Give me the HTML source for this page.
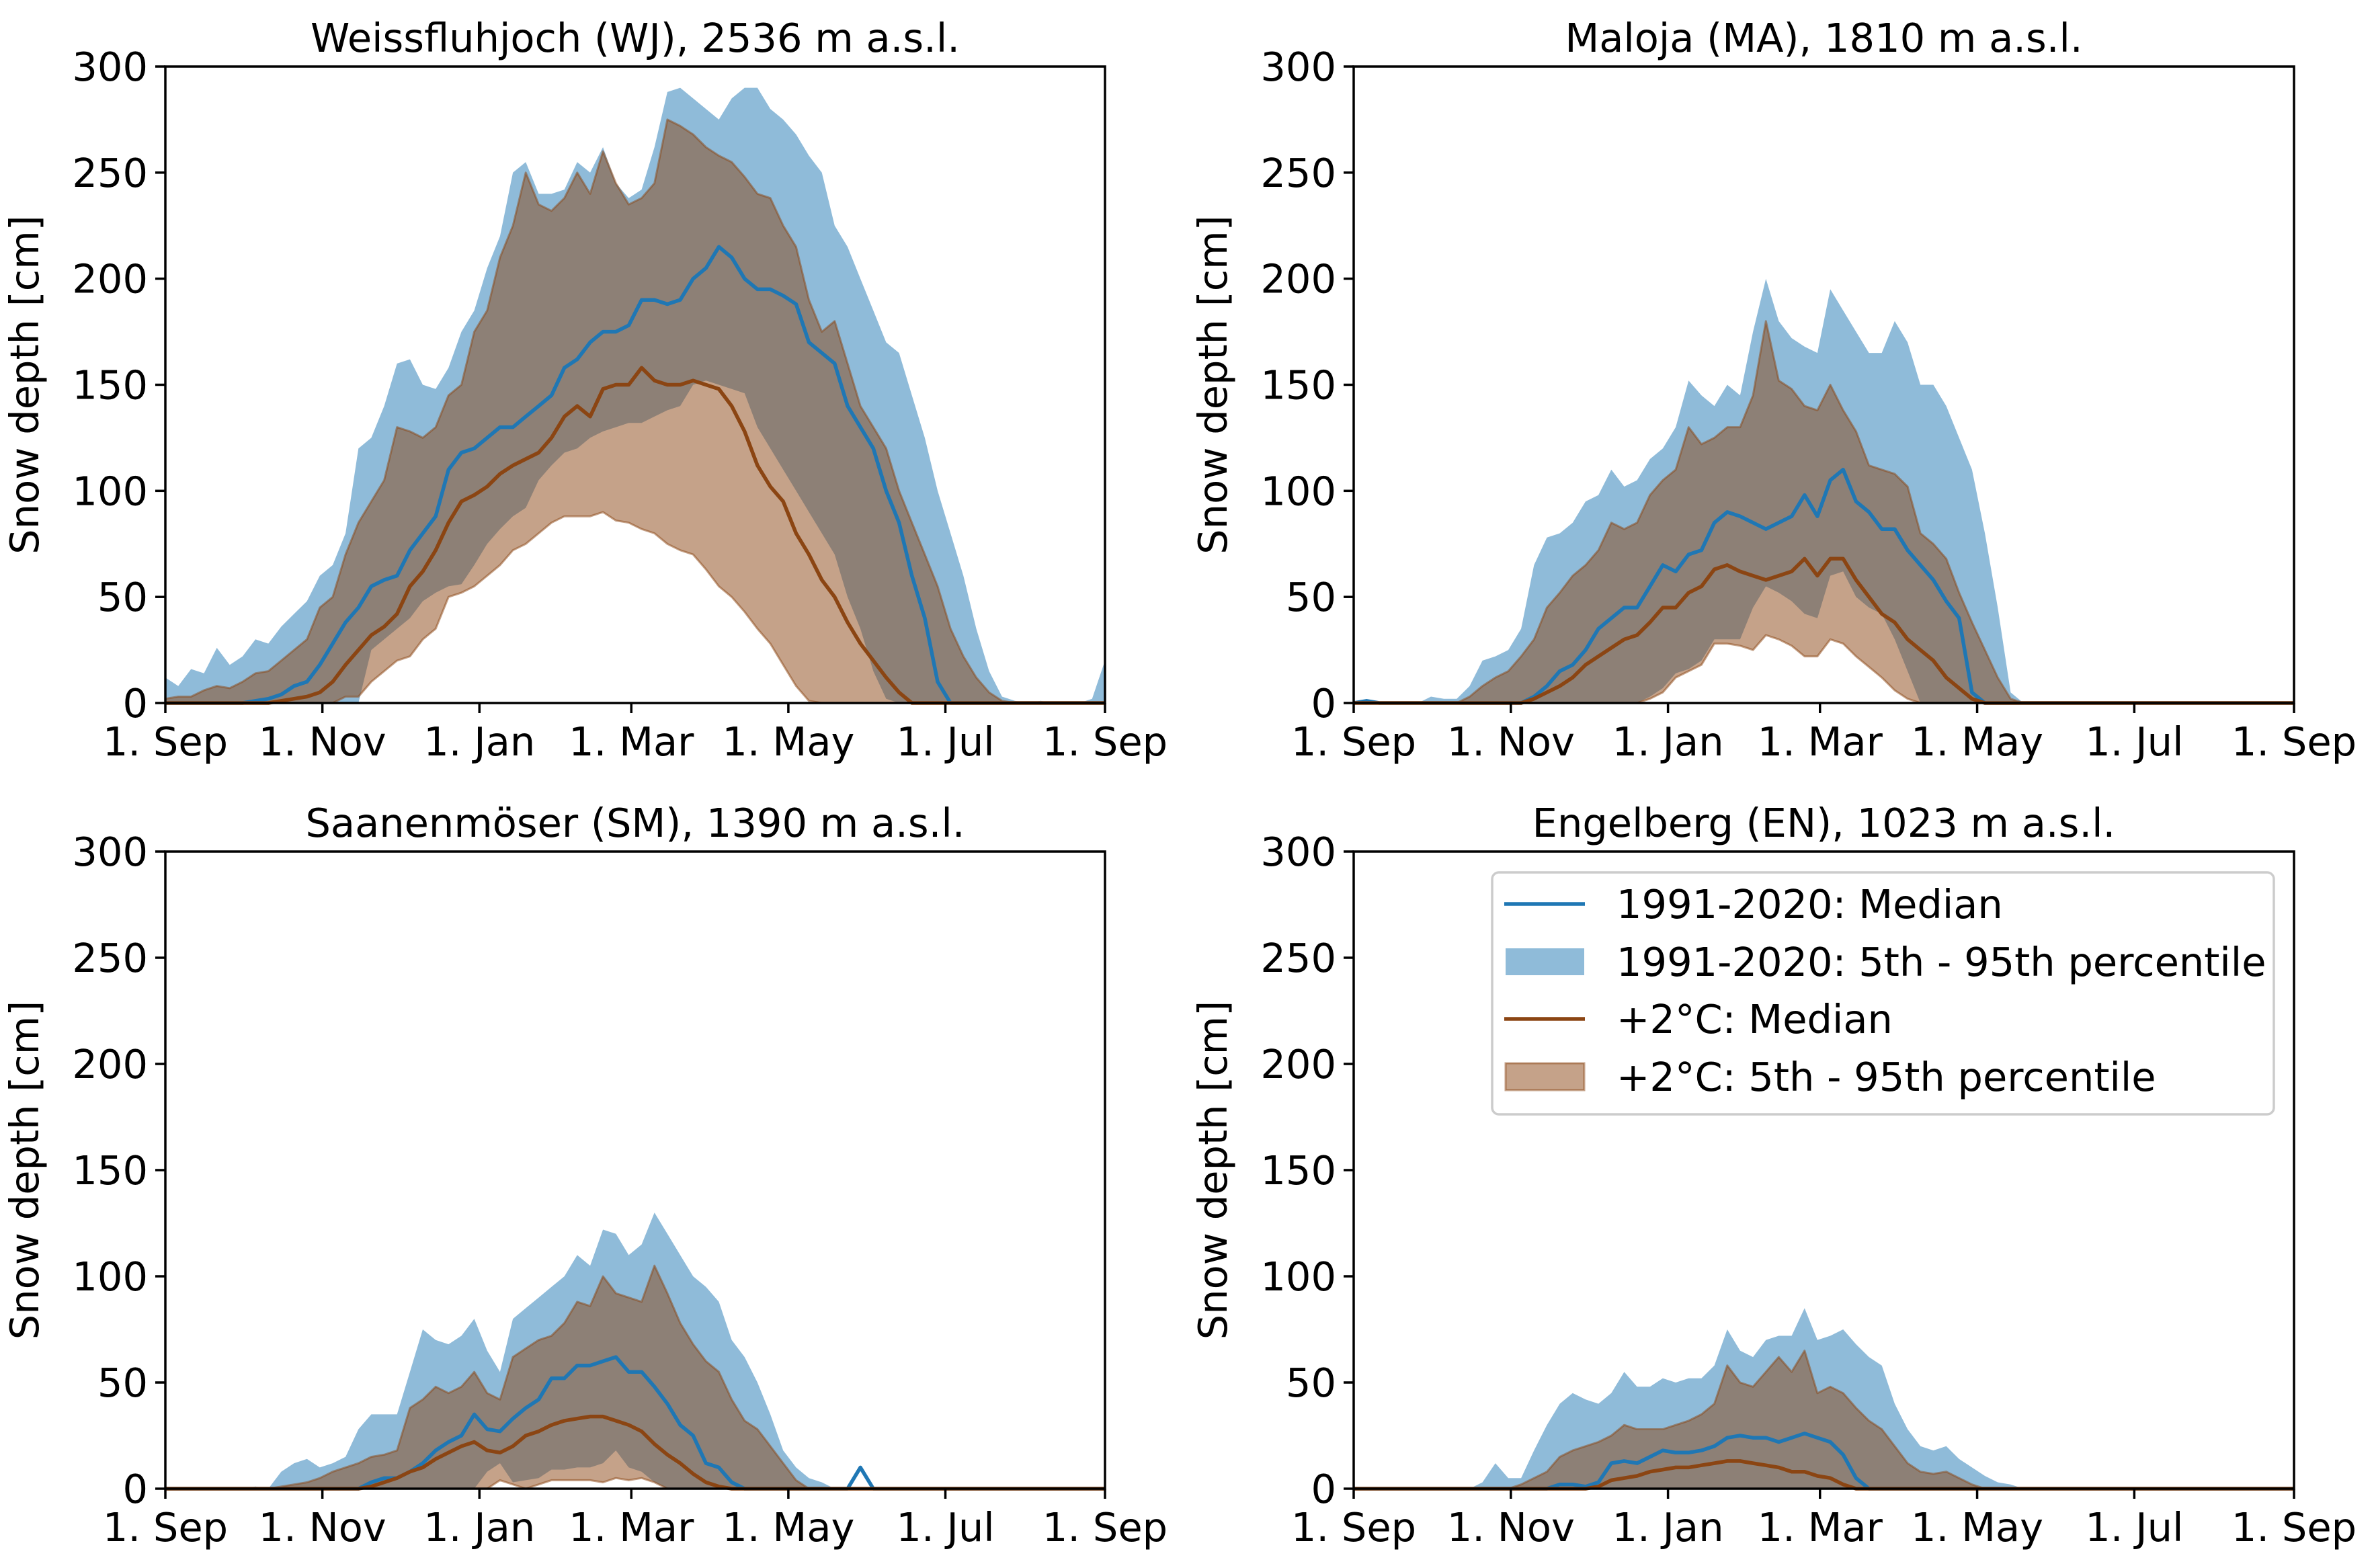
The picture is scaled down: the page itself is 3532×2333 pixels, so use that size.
<!DOCTYPE html>
<html><head><meta charset="utf-8">
<style>
html,body{margin:0;padding:0;background:#fff;}
svg{display:block;}
text{font-family:"DejaVu Sans","Liberation Sans",sans-serif;fill:#000;}
</style></head>
<body>
<svg id="fig" width="3532" height="2333" viewBox="0 0 3532 2333" xmlns="http://www.w3.org/2000/svg"></svg>
<script>
// Sample every 5 days starting 1. Sep (day 0) up to day 365; trailing entries omitted = 0 snow
const tickLabels = ["1. Sep","1. Nov","1. Jan","1. Mar","1. May","1. Jul","1. Sep"];
const tickDays = [0,61,122,181,242,303,365];
const yTicks = [0,50,100,150,200,250,300];

// Weissfluhjoch
const wjRef95 = [12,8,16,14,26,18,22,30,28,36, 42,48,60,65,80,120,125,140,160,162, 150,148,158,175,185,205,220,250,255,240, 240,242,255,250,262,245,238,242,262,288, 290,285,280,275,285,290,290,280,275,268, 258,250,225,215,200,185,170,165,145,125, 100,80,60,35,15,3,1,0,1,0, 0,0,2,20];
const wjRef05 = [0,0,0,0,0,0,0,0,0,0, 0,0,0,0,0,0,25,30,35,40, 48,52,55,56,65,75,82,88,92,105, 112,118,120,125,128,130,132,132,135,138, 140,150,152,150,148,146,130,120,110,100, 90,80,70,50,35,15,2];
const wjRefMed = [0,0,0,0,0,0,0,1,2,4, 8,10,18,28,38,45,55,58,60,72, 80,88,110,118,120,125,130,130,135,140, 145,158,162,170,175,175,178,190,190,188, 190,200,205,215,210,200,195,195,192,188, 170,165,160,140,130,120,100,85,60,40, 10];
const wjWarm95 = [2,3,3,6,8,7,10,14,15,20, 25,30,45,50,70,85,95,105,130,128, 125,130,145,150,175,185,210,225,250,235, 232,238,250,240,260,245,235,238,245,275, 272,268,262,258,255,248,240,238,225,215, 190,175,180,160,140,130,120,100,85,70, 55,35,22,12,5,1];
const wjWarm05 = [0,0,0,0,0,0,0,0,0,0, 0,0,0,0,3,3,10,15,20,22, 30,35,50,52,55,60,65,72,75,80, 85,88,88,88,90,86,85,82,80,75, 72,70,63,55,50,43,35,28,18,8, 1];
const wjWarmMed = [0,0,0,0,0,0,0,0,0,1, 2,3,5,10,18,25,32,36,42,55, 62,72,85,95,98,102,108,112,115,118, 125,135,140,135,148,150,150,158,152,150, 150,152,150,148,140,128,112,102,95,80, 70,58,50,38,28,20,12,5];

// Maloja
const maRef95 = [0,0,0,0,0,0,3,2,2,8, 20,22,25,35,65,78,80,85,95,98, 110,102,105,115,120,130,152,145,140,150, 145,175,200,180,172,168,165,195,185,175, 165,165,180,170,150,150,140,125,110,80, 45,5];
const maRef05 = [0,0,0,0,0,0,0,0,0,0, 0,0,0,0,0,0,0,0,0,0, 0,0,0,3,7,14,16,20,30,30, 30,45,55,52,48,42,40,60,62,50, 45,42,30,15];
const maRefMed = [0,1,0,0,0,0,0,0,0,0, 0,0,0,0,3,8,15,18,25,35, 40,45,45,55,65,62,70,72,85,90, 88,85,82,85,88,98,88,105,110,95, 90,82,82,72,65,58,48,40,5];
const maWarm95 = [0,0,0,0,0,0,0,0,0,3, 8,12,15,22,30,45,52,60,65,72, 85,82,85,98,105,110,130,122,125,130, 130,145,180,152,148,140,138,150,138,128, 112,110,108,102,80,75,68,52,38,25, 12,2];
const maWarm05 = [0,0,0,0,0,0,0,0,0,0, 0,0,0,0,0,0,0,0,0,0, 0,0,0,2,5,12,15,18,28,28, 27,25,32,30,27,22,22,30,28,22, 17,12,6,2];
const maWarmMed = [0,0,0,0,0,0,0,0,0,0, 0,0,0,0,2,5,8,12,18,22, 26,30,32,38,45,45,52,55,63,65, 62,60,58,60,62,68,60,68,68,58, 50,42,38,30,25,20,12,7,2];

// Saanenmöser
const smRef95 = [0,0,0,0,0,0,0,1,0,8, 12,14,10,12,15,28,35,35,35,55, 75,70,68,72,80,65,55,80,85,90, 95,100,110,105,122,120,110,115,130,120, 110,100,95,88,70,62,50,35,18,10, 5,3];
const smRef05 = [0,0,0,0,0,0,0,0,0,0, 0,0,0,0,0,0,0,0,0,0, 0,0,0,0,0,8,12,3,4,5, 9,9,10,10,12,18,10,8,3];
const smRefMed = [0,0,0,0,0,0,0,0,0,0, 0,0,0,0,0,0,3,5,5,8, 12,18,22,25,35,28,27,33,38,42, 52,52,58,58,60,62,55,55,48,40, 30,25,12,10,3,0,0,0,0,0, 0,0,0,0,10];
const smWarm95 = [0,0,0,0,0,0,0,0,0,1, 2,3,5,8,10,12,15,16,18,38, 42,48,45,48,55,45,42,62,66,70, 72,78,88,86,100,92,90,88,105,92, 78,68,60,55,42,32,28,20,12,4];
const smWarm05 = [0,0,0,0,0,0,0,0,0,0, 0,0,0,0,0,0,0,0,0,0, 0,0,0,0,0,0,4,2,0,2, 4,4,4,4,3,5,4,5,3];
const smWarmMed = [0,0,0,0,0,0,0,0,0,0, 0,0,0,0,0,0,1,3,5,8, 10,14,17,20,22,18,17,20,25,27, 30,32,33,34,34,32,30,27,21,16, 12,7,3,1];

// Engelberg
const enRef95 = [0,0,0,0,0,0,0,0,0,0, 3,12,5,5,18,30,40,45,42,40, 45,55,48,48,52,50,52,52,58,75, 65,62,70,72,72,85,70,72,75,68, 62,58,40,28,20,18,20,14,10,6, 3,2];
const enRef05 = [0];
const enRefMed = [0,0,0,0,0,0,0,0,0,0, 0,0,0,0,0,0,2,2,1,3, 12,13,12,15,18,17,17,18,20,24, 25,24,24,22,24,26,24,22,16,5];
const enWarm95 = [0,0,0,0,0,0,0,0,0,0, 0,0,0,2,5,8,15,18,20,22, 25,30,28,28,28,30,32,35,40,58, 50,48,55,62,55,65,45,48,45,38, 32,28,20,12,8,7,8,5,2];
const enWarm05 = [0];
const enWarmMed = [0,0,0,0,0,0,0,0,0,0, 0,0,0,0,0,0,0,0,0,1, 4,5,6,8,9,10,10,11,12,13, 13,12,11,10,8,8,6,5,2];

const panels = [
  {name:"weissfluhjoch", title:"Weissfluhjoch (WJ), 2536 m a.s.l.", L:246, R:1644, T:99, B:1046, r95:wjRef95, r05:wjRef05, rm:wjRefMed, w95:wjWarm95, w05:wjWarm05, wm:wjWarmMed},
  {name:"maloja", title:"Maloja (MA), 1810 m a.s.l.", L:2014, R:3413, T:99, B:1046, r95:maRef95, r05:maRef05, rm:maRefMed, w95:maWarm95, w05:maWarm05, wm:maWarmMed},
  {name:"saanenmoeser", title:"Saanenmöser (SM), 1390 m a.s.l.", L:246, R:1644, T:1267, B:2215, r95:smRef95, r05:smRef05, rm:smRefMed, w95:smWarm95, w05:smWarm05, wm:smWarmMed},
  {name:"engelberg", title:"Engelberg (EN), 1023 m a.s.l.", L:2014, R:3413, T:1267, B:2215, r95:enRef95, r05:enRef05, rm:enRefMed, w95:enWarm95, w05:enWarm05, wm:enWarmMed}
];

const NS = "http://www.w3.org/2000/svg";
const svg = document.getElementById("fig");
const N = 74;
function val(arr,i){ return i < arr.length ? arr[i] : 0; }
function mk(tag, attrs, parent){
  const e = document.createElementNS(NS, tag);
  for (const k in attrs) e.setAttribute(k, attrs[k]);
  (parent||svg).appendChild(e);
  return e;
}

panels.forEach(p => {
  const xS = d => p.L + d/365*(p.R-p.L);
  const yS = v => p.B - v/300*(p.B-p.T);
  const g = mk("g", {});
  
  

  function band(hi, lo, fill, stroke, nm){
    let pts = [];
    for (let i=0;i<N;i++) pts.push(xS(i*5 > 365 ? 365 : i*5).toFixed(1)+","+yS(val(hi,i)).toFixed(1));
    for (let i=N-1;i>=0;i--) pts.push(xS(i*5 > 365 ? 365 : i*5).toFixed(1)+","+yS(Math.min(val(lo,i),val(hi,i))).toFixed(1));
    const e = mk("polygon", {points:pts.join(" "), fill:fill, "fill-opacity":0.5, stroke:stroke||"none", "stroke-opacity":0.5, "stroke-width":3, "stroke-linejoin":"round"}, g);
    
    
  }
  function line(arr, color, nm){
    let pts = [];
    for (let i=0;i<N;i++) pts.push(xS(i*5 > 365 ? 365 : i*5).toFixed(1)+","+yS(val(arr,i)).toFixed(1));
    const e = mk("polyline", {points:pts.join(" "), fill:"none", stroke:color, "stroke-width":5.5, "stroke-linejoin":"round"}, g);
    
    
  }
  band(p.r95, p.r05, "#1f77b4", null, p.name+'-reference-percentile-band');
  band(p.w95, p.w05, "#8B4513", "#8B4513", p.name+'-warming-percentile-band');
  line(p.rm, "#1f77b4", p.name+'-reference-median-line');
  line(p.wm, "#8B4513", p.name+'-warming-median-line');

  const frame = mk("rect", {x:p.L, y:p.T, width:p.R-p.L, height:p.B-p.T, fill:"none", stroke:"#000", "stroke-width":3.5}, g);
  
  

  yTicks.forEach(v => {
    const y = yS(v);
    const t = mk("line", {x1:p.L-15, x2:p.L, y1:y, y2:y, stroke:"#000", "stroke-width":3.5}, g);
    
    
    const lb = mk("text", {x:p.L-26, y:y+21, "text-anchor":"end", "font-size":59}, g);
    lb.textContent = v;
    
    
  });
  tickDays.forEach((d,i) => {
    const x = xS(d);
    const t = mk("line", {x1:x, x2:x, y1:p.B, y2:p.B+15, stroke:"#000", "stroke-width":3.5}, g);
    
    
    const lb = mk("text", {x:x, y:p.B+78, "text-anchor":"middle", "font-size":59}, g);
    lb.textContent = tickLabels[i];
    
    
  });
  const ti = mk("text", {x:(p.L+p.R)/2, y:p.T-22, "text-anchor":"middle", "font-size":59}, g);
  ti.textContent = p.title;
  
  
  const cy = (p.T+p.B)/2, cx = p.L-189;
  const yl = mk("text", {x:cx, y:cy, "text-anchor":"middle", "font-size":59, transform:"rotate(-90 "+cx+" "+cy+")"}, g);
  yl.textContent = "Snow depth [cm]";
  
  
});

// Legend
const lg = mk("g", {});


const box = mk("rect", {x:2220, y:1298, width:1163, height:360, rx:10, fill:"#fff", "fill-opacity":0.8, stroke:"#cccccc", "stroke-width":3.5}, lg);


const legendLabels = ["1991-2020: Median","1991-2020: 5th - 95th percentile","+2°C: Median","+2°C: 5th - 95th percentile"];
const rowY = [1345,1431,1516,1602];
legendLabels.forEach((lab,i) => {
  const y = rowY[i];
  let h;
  if (i===0 || i===2) {
    h = mk("line", {x1:2238, x2:2358, y1:y, y2:y, stroke: i===0?"#1f77b4":"#8B4513", "stroke-width":5.5}, lg);
  } else {
    h = mk("rect", {x:2240, y:y-20, width:117, height:40, fill: i===1?"#1f77b4":"#8B4513", "fill-opacity":0.5, stroke: i===1?"none":"#8B4513", "stroke-opacity":0.5, "stroke-width":3}, lg);
  }
  
  
  const t = mk("text", {x:2405, y:y+21, "font-size":59}, lg);
  t.textContent = lab;
  
  
});
</script>
</body></html>
